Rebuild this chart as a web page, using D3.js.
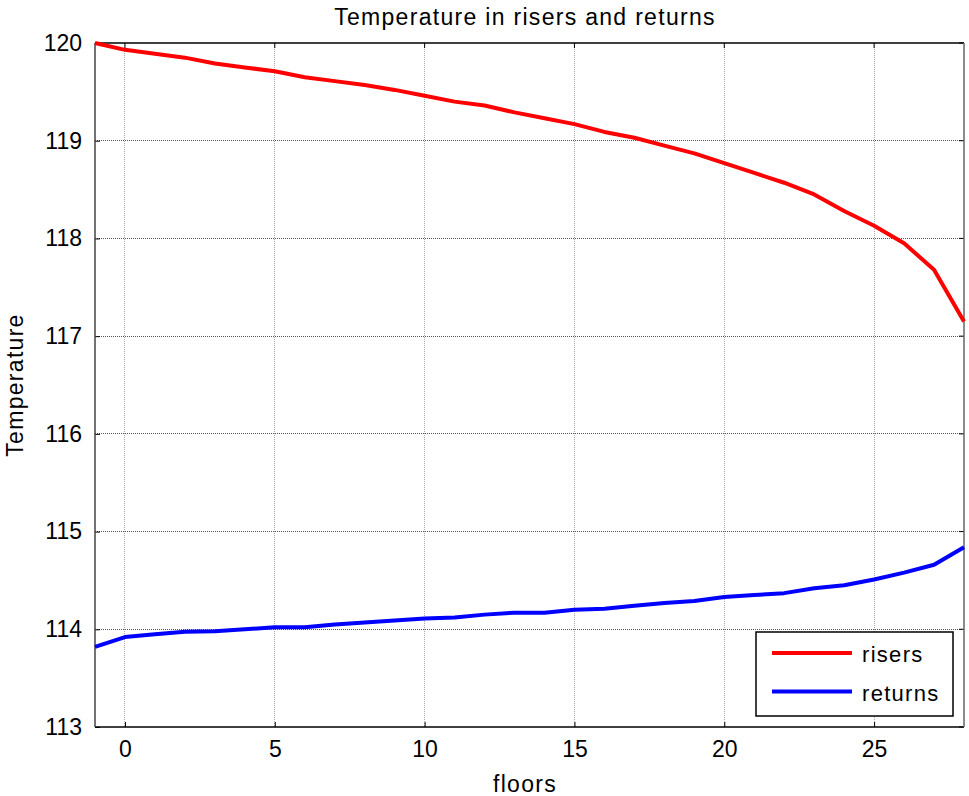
<!DOCTYPE html>
<html>
<head>
<meta charset="utf-8">
<script src="https://cdn.jsdelivr.net/npm/d3@7"></script>
<style>
  html, body { margin: 0; padding: 0; background: #fff; }
  svg { display: block; font-family: Arial, "Liberation Sans", sans-serif; }
</style>
</head>
<body>
<svg id="chart" width="969" height="796"></svg>
<script>
const floors = d3.range(-1, 29);
const risers = [120.00, 119.93, 119.89, 119.85, 119.79, 119.75, 119.71, 119.65, 119.61, 119.57,
                119.52, 119.46, 119.40, 119.36, 119.29, 119.23, 119.17, 119.09, 119.03, 118.95,
                118.87, 118.77, 118.67, 118.57, 118.45, 118.28, 118.13, 117.95, 117.68, 117.15];
const returns = [113.82, 113.92, 113.95, 113.975, 113.98, 114.00, 114.02, 114.02, 114.05, 114.07,
                 114.09, 114.11, 114.12, 114.15, 114.17, 114.17, 114.20, 114.21, 114.24, 114.27,
                 114.29, 114.33, 114.35, 114.37, 114.42, 114.45, 114.51, 114.58, 114.66, 114.84];
const xTicks = [0, 5, 10, 15, 20, 25];
const yTicks = [113, 114, 115, 116, 117, 118, 119, 120];
const seriesNames = ["risers", "returns"];
const seriesColors = ["#ff0000", "#0000ff"];
const titleText = "Temperature in risers and returns";
const xLabel = "floors";
const yLabel = "Temperature";

const svg = d3.select("#chart");
const FONT = "Arial, 'Liberation Sans', sans-serif";
const m = { left: 95, right: 964, top: 43, bottom: 727 };
const x = d3.scaleLinear().domain([-1, 28]).range([m.left, m.right]);
const y = d3.scaleLinear().domain([113, 120]).range([m.bottom, m.top]);

// grid
const g = svg.append("g");
g.selectAll("line.vgrid").data(xTicks).join("line")
  .attr("x1", d => x(d)).attr("x2", d => x(d))
  .attr("y1", m.top).attr("y2", m.bottom)
  .attr("stroke", "#a8a8a8").attr("stroke-width", 1)
  .attr("stroke-dasharray", "1,1").attr("shape-rendering", "crispEdges");
g.selectAll("line.hgrid").data(yTicks.filter(d => d > 113 && d < 120)).join("line")
  .attr("x1", m.left).attr("x2", m.right)
  .attr("y1", d => y(d)).attr("y2", d => y(d))
  .attr("stroke", "#555").attr("stroke-width", 1)
  .attr("stroke-dasharray", "1,1").attr("shape-rendering", "crispEdges");

// axes
const xAxis = d3.axisBottom(x).tickValues(xTicks).tickFormat(d3.format("d")).tickSize(-5).tickPadding(14);
const yAxis = d3.axisLeft(y).tickValues(yTicks).tickFormat(d3.format("d")).tickSize(-5).tickPadding(13);
const xa = svg.append("g").attr("transform", `translate(0,${m.bottom})`).call(xAxis);
const ya = svg.append("g").attr("transform", `translate(${m.left},0)`).call(yAxis);
[xa, ya].forEach(a => {
  a.attr("font-size", 23).attr("font-family", FONT);
  a.select(".domain").remove();
  a.selectAll("text").attr("fill", "#000");
  a.selectAll("line").attr("stroke", "#000").attr("stroke-width", 1);
});
// top/right ticks
svg.append("g").selectAll("line").data(xTicks).join("line")
  .attr("x1", d => x(d)).attr("x2", d => x(d))
  .attr("y1", m.top).attr("y2", m.top + 5).attr("stroke", "#000");
svg.append("g").selectAll("line").data(yTicks).join("line")
  .attr("x1", m.right).attr("x2", m.right - 5)
  .attr("y1", d => y(d)).attr("y2", d => y(d)).attr("stroke", "#000");

// box
svg.append("line").attr("x1", m.left).attr("x2", m.right).attr("y1", m.top).attr("y2", m.top)
  .attr("stroke", "#000").attr("stroke-width", 1.5);
svg.append("line").attr("x1", m.left).attr("x2", m.right).attr("y1", m.bottom).attr("y2", m.bottom)
  .attr("stroke", "#000").attr("stroke-width", 1.5);
svg.append("line").attr("x1", m.left).attr("x2", m.left).attr("y1", m.top).attr("y2", m.bottom)
  .attr("stroke", "#444").attr("stroke-width", 1.5);
svg.append("line").attr("x1", m.right).attr("x2", m.right).attr("y1", m.top).attr("y2", m.bottom)
  .attr("stroke", "#666").attr("stroke-width", 1.5);

// lines
const line = d3.line().x((d, i) => x(floors[i])).y(d => y(d));
[risers, returns].forEach((s, i) => {
  svg.append("path").datum(s).attr("d", line)
    .attr("fill", "none").attr("stroke", seriesColors[i])
    .attr("stroke-width", 4).attr("stroke-linejoin", "round");
});

// title & labels
const LS = 1.3;
svg.append("text").attr("x", 525).attr("y", 25).attr("text-anchor", "middle")
  .attr("font-size", 23).attr("letter-spacing", LS).text(titleText);
svg.append("text").attr("x", 525).attr("y", 792).attr("text-anchor", "middle")
  .attr("font-size", 23).attr("letter-spacing", LS).text(xLabel);
svg.append("text").attr("transform", `translate(23,${(m.top + m.bottom) / 2}) rotate(-90)`)
  .attr("text-anchor", "middle").attr("font-size", 23).attr("letter-spacing", LS).text(yLabel);

// legend
const lg = svg.append("g");
lg.append("rect").attr("x", 756).attr("y", 632).attr("width", 197).attr("height", 84)
  .attr("fill", "#fff").attr("stroke", "#000").attr("stroke-width", 1.5);
seriesNames.forEach((n, i) => {
  const yy = 653 + i * 38.5;
  lg.append("line").attr("x1", 772).attr("x2", 852).attr("y1", yy).attr("y2", yy)
    .attr("stroke", seriesColors[i]).attr("stroke-width", 4);
  lg.append("text").attr("x", 862).attr("y", yy + 9).attr("font-size", 22)
    .attr("letter-spacing", LS).text(n);
});
</script>
</body>
</html>
